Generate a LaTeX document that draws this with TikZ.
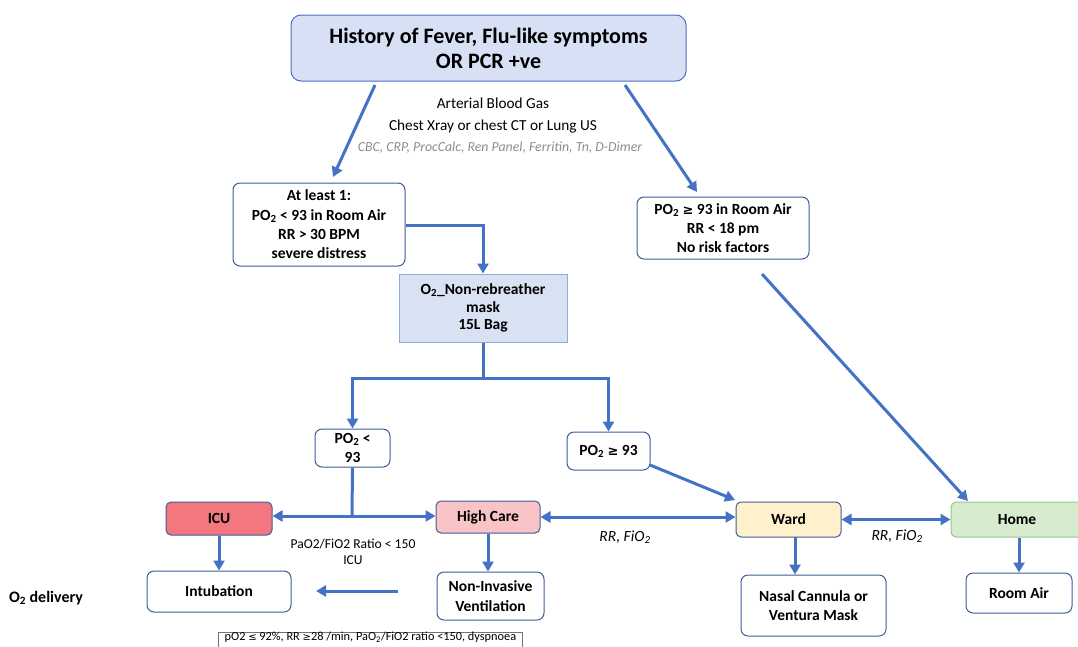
\documentclass[tikz,border=0pt]{standalone}
\usepackage{fontspec}
\setmainfont{Carlito}
\newfontfamily\symfont{DejaVu Sans}
\usetikzlibrary{arrows.meta,calc}
\definecolor{arrblue}{HTML}{4472C4}
\definecolor{boxedge}{HTML}{3E5C9A}
\definecolor{titlefill}{HTML}{D7E0F4}
\definecolor{o2fill}{HTML}{D9E2F3}
\definecolor{o2edge}{HTML}{8FAADC}
\definecolor{icufill}{HTML}{F2777E}
\definecolor{hcfill}{HTML}{F8C4C6}
\definecolor{wardfill}{HTML}{FFF1CC}
\definecolor{homefill}{HTML}{D7EBCF}
\definecolor{homeedge}{HTML}{9CC58A}
\definecolor{greytext}{HTML}{8C8C8C}
\newcommand\subs[1]{\textsubscript{#1}}
\newcommand\mygeq{{\symfont\fontsize{13}{15}\selectfont ≥}}
\newcommand\myleqs{{\symfont\fontsize{10}{12}\selectfont ≤}}
\newcommand\mygeqs{{\symfont\fontsize{10}{12}\selectfont ≥}}
\tikzset{
  box/.style={draw=boxedge, line width=1pt, rounded corners=7pt, fill=white, align=center, inner sep=0pt, font=\bfseries\fontsize{15.5}{19.3}\selectfont},
  arr/.style={draw=arrblue, line width=3pt, -{Triangle[length=10pt,width=11pt]}},
  darr/.style={draw=arrblue, line width=3pt, {Triangle[length=10pt,width=11pt]}-{Triangle[length=10pt,width=11pt]}},
  ln/.style={draw=arrblue, line width=3pt},
  lbl/.style={align=center, inner sep=0pt},
}
\begin{document}
\begin{tikzpicture}[x=1pt,y=-1pt]
\useasboundingbox (0,0) rectangle (1078,646);
\clip (0,0) rectangle (1078,646);

% nodes
\node[box, fill=titlefill, draw=arrblue, rounded corners=10pt, minimum width=395pt, minimum height=66pt, font=\bfseries\fontsize{22}{25}\selectfont] (title) at (488.5,48) {History of Fever, Flu-like symptoms\\OR PCR +ve};

\node[lbl, font=\fontsize{15.3}{22}\selectfont] (tests) at (493,115) {Arterial Blood Gas\\Chest Xray or chest CT or Lung US};
\node[lbl, font=\itshape\fontsize{13.8}{15}\selectfont, text=greytext] (labs) at (500,148) {CBC, CRP, ProcCalc, Ren Panel, Ferritin, Tn, D-Dimer};

\node[box, minimum width=172pt, minimum height=83pt] (atleast) at (319,224.5) {At least 1:\\PO\subs{2} < 93 in Room Air\\RR > 30 BPM\\severe distress};

\node[box, minimum width=172pt, minimum height=62pt] (po2ok) at (723,228) {PO\subs{2} \mygeq{} 93 in Room Air\\RR < 18 pm\\No risk factors};

\node[box, rounded corners=0pt, fill=o2fill, draw=o2edge, minimum width=168pt, minimum height=68pt, font=\bfseries\fontsize{15.5}{17.5}\selectfont] (o2) at (483,308) {O\subs{2}\_Non-rebreather\\mask\\15L Bag};

\node[box, minimum width=75pt, minimum height=38pt] (po2lt) at (352.5,448) {PO\subs{2} <\\93};
\node[box, minimum width=83pt, minimum height=38pt] (po2ge) at (608.5,451) {PO\subs{2} \mygeq{} 93};

\node[box, rounded corners=5pt, fill=icufill, minimum width=106pt, minimum height=33pt] (icu) at (219,518.5) {ICU};
\node[box, rounded corners=5pt, fill=hcfill, minimum width=104pt, minimum height=32pt] (hc) at (488,517) {High Care};
\node[box, rounded corners=5pt, fill=wardfill, minimum width=105pt, minimum height=35pt] (ward) at (788.5,519.5) {Ward};
\node[box, rounded corners=5pt, fill=homefill, draw=homeedge, minimum width=132pt, minimum height=35pt] (home) at (1017,519.5) {Home};

\node[box, minimum width=144pt, minimum height=41pt] (intub) at (219,591.5) {Intubation};
\node[box, minimum width=107pt, minimum height=48pt] (niv) at (490.5,596) {Non-Invasive\\Ventilation};
\node[box, minimum width=145pt, minimum height=61pt] (nasal) at (813.5,605.5) {Nasal Cannula or\\Ventura Mask};
\node[box, minimum width=106pt, minimum height=40pt] (roomair) at (1019,593) {Room Air};

\node[lbl, font=\bfseries\fontsize{16}{18}\selectfont] (o2del) at (46,598) {O\subs{2} delivery};
\node[lbl, font=\fontsize{13.6}{16}\selectfont] (ratio) at (353,552) {PaO2/FiO2 Ratio < 150\\ICU};
\node[lbl, font=\itshape\fontsize{15.5}{17}\selectfont] (rr1) at (625,537) {RR, FiO\subs{2}};
\node[lbl, font=\itshape\fontsize{15.5}{17}\selectfont] (rr2) at (897,536) {RR, FiO\subs{2}};

\node[draw=black!55, line width=0.8pt, minimum width=304pt, minimum height=22pt, inner sep=0pt, anchor=north west, font=\fontsize{12.3}{14}\selectfont] (crit) at (218,632) {\raisebox{0pt}[0pt][0pt]{\raisebox{3pt}{pO2 \myleqs{} 92\%, RR \mygeqs{}28 /min, PaO\subs{2}/FiO2 ratio <150, dyspnoea}}};

% free-end coordinates
\coordinate (t1) at (375,85);
\coordinate (t1e) at (333,177);
\coordinate (t2) at (625,85);
\coordinate (t2e) at (697,192);
\coordinate (h1) at (762,274);
\coordinate (h1e) at (968,501);
\coordinate (g1) at (650,465);
\coordinate (g1e) at (735,500);
\coordinate (junc) at (483,378);
\coordinate (split) at (352,516);
\coordinate (ia) at (398,591);
\coordinate (ib) at (316,591);
\coordinate (wd) at (795,537);

% connectors
\draw[arr] (t1) -- (t1e);
\draw[arr] (t2) -- (t2e);
\draw[arr] (atleast.east |- 0,225) -| (o2.north);
\draw[ln] (o2.south) -- (junc);
\draw[arr] (junc) -| (po2lt.north);
\draw[arr] (junc) -| (po2ge.north);
\draw[ln] (po2lt.south) -- (split);
\draw[arr] (split) -- (icu.east |- split);
\draw[arr] (split) -- (hc.west |- split);
\draw[arr] (h1) -- (h1e);
\draw[arr] (g1) -- (g1e);
\draw[darr] (hc.east) -- (ward.west |- hc.east);
\draw[darr] (ward.east) -- (home.west);
\draw[arr] (icu.south) -- (intub.north);
\draw[arr] (hc.south) -- (niv.north -| hc.south);
\draw[arr] (wd) -- (nasal.north -| wd);
\draw[arr] (home.south -| roomair.north) -- (roomair.north);
\draw[arr] (ia) -- (ib);
\end{tikzpicture}
\end{document}
